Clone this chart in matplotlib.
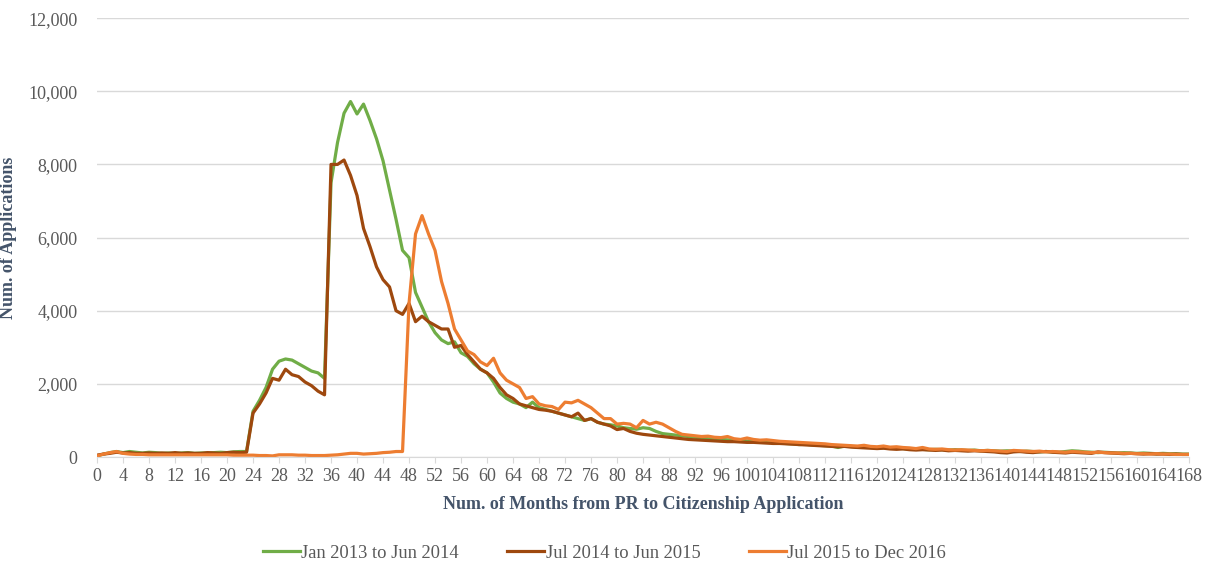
import matplotlib
matplotlib.use("Agg")
import matplotlib.pyplot as plt
from matplotlib.ticker import FuncFormatter, MultipleLocator

months = list(range(0, 169))

green_vals = [
    # 0-23
    30, 80, 120, 150, 120, 150, 130, 110, 130, 120, 100, 110, 100, 110, 120, 100, 110, 110, 120, 130, 120, 140, 150, 150,
    # 24-35
    1250, 1550, 1900, 2400, 2620, 2680, 2650, 2550, 2450, 2350, 2300, 2150,
    # 36-68
    7500, 8600, 9400, 9720, 9380, 9650, 9200, 8700, 8100, 7300,
    6500, 5650, 5450, 4500, 4100, 3700, 3400, 3200, 3100, 3150,
    2850, 2750, 2550, 2400, 2300, 2050, 1750, 1600, 1500, 1450,
    1350, 1500, 1350,
    # 69-100
    1300, 1250, 1200, 1150, 1100, 1050, 1000, 1050, 950, 900, 880, 850, 800, 780, 760, 800,
    780, 700, 640, 620, 600, 580, 560, 540, 520, 500, 490, 480, 470, 460, 450, 440,
    # 101-120
    430, 410, 420, 390, 380, 370, 360, 340, 350, 330, 320, 310, 300, 260, 300, 290, 270, 280, 260, 250,
    # 121-140
    250, 240, 250, 230, 220, 230, 210, 200, 210, 200, 190, 200, 190, 180, 190, 170, 180, 170, 160, 170,
    # 141-168
    160, 150, 160, 150, 140, 150, 140, 130, 150, 170, 160, 140, 130, 120, 130, 120, 110, 120, 110, 100,
    110, 100, 90, 100, 90, 90, 80, 80,
]

brown_vals = [
    # 0-23
    50, 80, 100, 130, 110, 120, 100, 100, 110, 100, 110, 100, 120, 100, 110, 100, 100, 120, 110, 100, 120, 130, 120, 130,
    # 24-35
    1200, 1450, 1750, 2150, 2100, 2400, 2250, 2200, 2050, 1950, 1800, 1700,
    # 36-68
    8000, 8000, 8120, 7700, 7150, 6250, 5750, 5200, 4850, 4650,
    4000, 3900, 4200, 3700, 3850, 3700, 3600, 3500, 3500, 3000,
    3050, 2800, 2600, 2400, 2300, 2150, 1900, 1700, 1600, 1450,
    1400, 1350, 1300,
    # 69-100
    1280, 1250, 1200, 1150, 1100, 1200, 1000, 1050, 950, 900, 850, 750, 780, 700, 650, 620,
    600, 580, 560, 540, 520, 500, 480, 470, 460, 450, 440, 430, 420, 420, 410, 400,
    # 101-120
    400, 390, 380, 370, 370, 360, 350, 340, 330, 320, 310, 300, 290, 280, 290, 270, 260, 250, 240, 230,
    # 121-140
    240, 220, 210, 220, 200, 190, 200, 190, 180, 190, 170, 180, 170, 160, 170, 160, 150, 140, 120, 110,
    # 141-168
    140, 150, 130, 120, 140, 150, 130, 120, 110, 130, 120, 110, 100, 140, 120, 110, 100, 90, 100, 90,
    80, 90, 80, 80, 70, 80, 70, 70,
]

orange_vals = [
    # 0-47
    30, 80, 120, 150, 100, 80, 70, 70, 60, 60, 60, 60, 60, 60, 60, 60, 60, 60, 60, 60, 60, 50, 50, 50,
    50, 40, 40, 30, 60, 60, 60, 50, 50, 40, 40, 40, 50, 60, 80, 100, 100, 80, 90, 100, 120, 130, 150, 150,
    # 48-68
    4200, 6100, 6600, 6100, 5650, 4800, 4200, 3500, 3200, 2900, 2800, 2600, 2500, 2700, 2300, 2100,
    2000, 1900, 1600, 1650, 1450,
    # 69-100
    1400, 1380, 1300, 1500, 1480, 1550, 1450, 1350, 1200, 1050, 1050, 900, 920, 900, 800, 1000,
    900, 950, 900, 800, 700, 620, 600, 580, 560, 570, 540, 530, 560, 500, 480, 520,
    # 101-120
    480, 460, 470, 450, 430, 420, 410, 400, 390, 380, 370, 360, 340, 330, 320, 310, 300, 320, 290, 280,
    # 121-140
    300, 270, 280, 260, 250, 230, 260, 220, 210, 220, 200, 190, 200, 190, 180, 170, 180, 170, 160, 150,
    # 141-168
    180, 170, 160, 150, 160, 140, 150, 140, 130, 150, 140, 130, 120, 130, 120, 110, 110, 100, 100, 90,
    90, 80, 90, 80, 80, 70, 70, 70,
]

series_names = ["Jan 2013 to Jun 2014", "Jul 2014 to Jun 2015", "Jul 2015 to Dec 2016"]
series_colors = ["#70AD47", "#9E480E", "#ED7D31"]
x_ticks = list(range(0, 169, 4))

plt.rcParams['font.family'] = ['Liberation Serif', 'DejaVu Serif']

fig = plt.figure(figsize=(12.16, 5.67), dpi=100)
ax = fig.add_axes([0.0798, 0.194, 0.898, 0.774])

for vals, name, col in zip([green_vals, brown_vals, orange_vals], series_names, series_colors):
    ax.plot(months, vals, color=col, lw=2.3, label=name, solid_joinstyle='round')

ax.set_xlim(0, 168)
ax.set_ylim(0, 12000)
ax.yaxis.set_major_locator(MultipleLocator(2000))
ax.yaxis.set_major_formatter(FuncFormatter(lambda v, p: f"{int(v):,}"))
ax.set_xticks(x_ticks)
ax.set_xticklabels([str(t) for t in x_ticks])
ax.grid(axis='y', color='#D9D9D9', lw=1)
ax.set_axisbelow(True)
for s in ['top', 'right', 'left']:
    ax.spines[s].set_visible(False)
ax.spines['bottom'].set_color('#D9D9D9')
ax.tick_params(axis='y', length=0, labelsize=13, labelcolor='#595959', pad=14)
ax.tick_params(axis='x', length=4, color='#D9D9D9', labelsize=13, labelcolor='#595959', pad=4)

ax.set_xlabel("Num. of Months from PR to Citizenship Application", fontsize=13,
              fontweight='bold', color='#44546A', labelpad=8)
ax.set_ylabel("Num. of Applications", fontsize=13, fontweight='bold', color='#44546A')
ax.yaxis.set_label_coords(-0.073, 0.5)

leg = fig.legend(loc='center', bbox_to_anchor=(0.497, 0.024), ncol=3, frameon=False,
                 fontsize=13.3, handlelength=2.0, handletextpad=0.1, columnspacing=2.6)
for t in leg.get_texts():
    t.set_color('#595959')

fig.savefig("out.png", dpi=100, facecolor='white')
